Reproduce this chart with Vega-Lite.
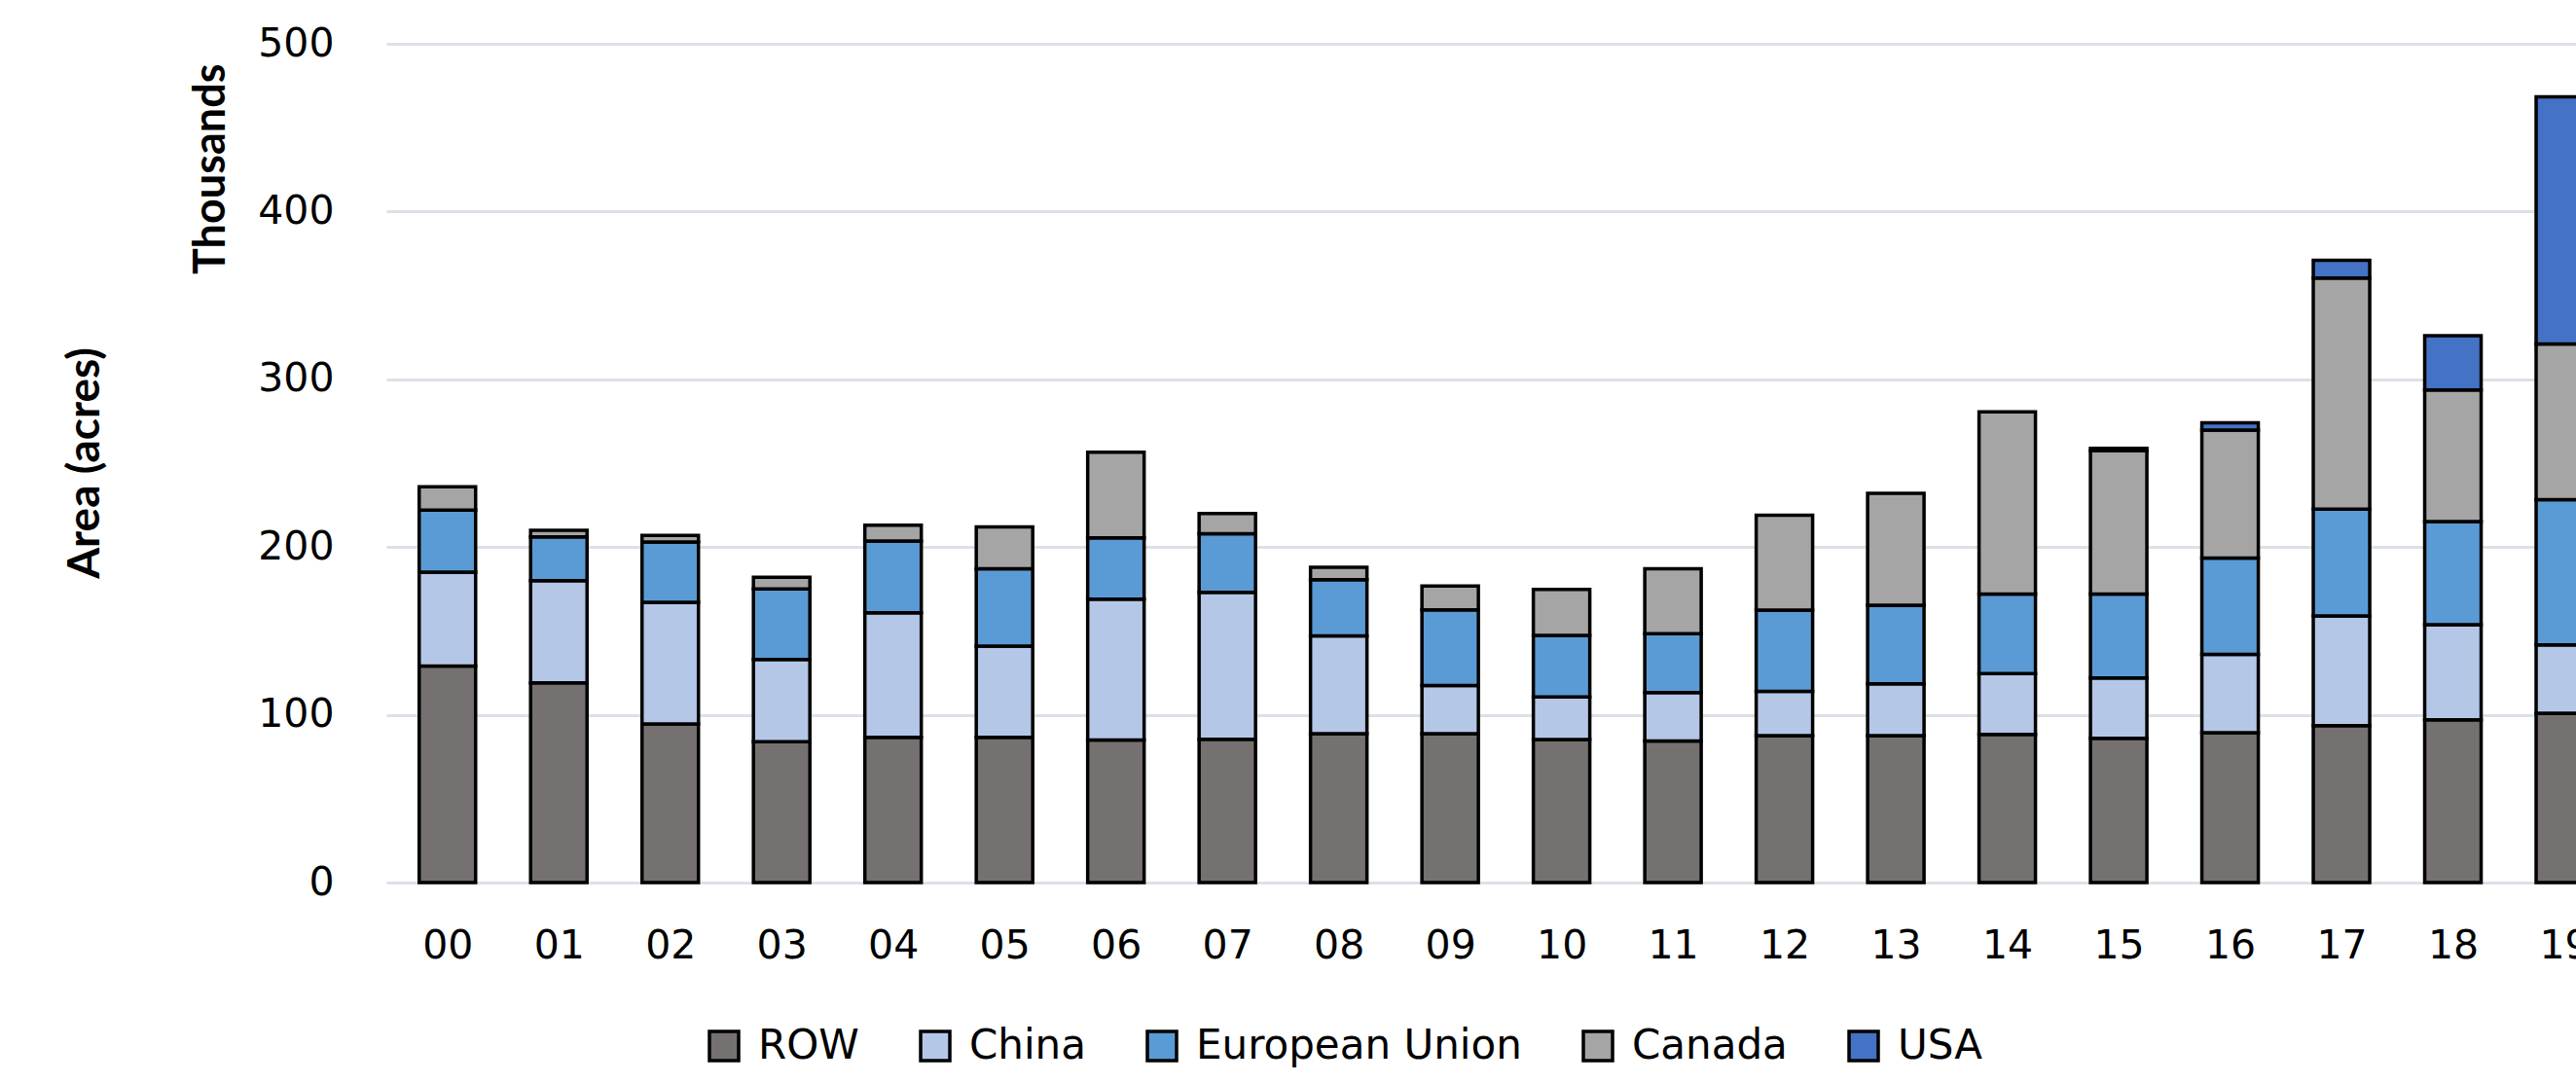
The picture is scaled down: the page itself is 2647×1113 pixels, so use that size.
{
  "$schema": "https://vega.github.io/schema/vega-lite/v6.json",
  "autosize": {"type": "none"},
  "padding": {"left": 397, "top": 45, "right": 0, "bottom": 206},
  "width": 2250,
  "height": 862,
  "background": "white",
  "title": {"text": "Area (acres)", "orient": "left", "anchor": "middle", "font": "Lato", "fontSize": 46, "fontWeight": "bold", "color": "black", "offset": 82},
  "data": {"values": [
    {"year": 2000, "region": "ROW", "value": 129}, {"year": 2000, "region": "China", "value": 56}, {"year": 2000, "region": "European Union", "value": 37}, {"year": 2000, "region": "Canada", "value": 14},
    {"year": 2001, "region": "ROW", "value": 119}, {"year": 2001, "region": "China", "value": 61}, {"year": 2001, "region": "European Union", "value": 26}, {"year": 2001, "region": "Canada", "value": 4},
    {"year": 2002, "region": "ROW", "value": 94.5}, {"year": 2002, "region": "China", "value": 72.5}, {"year": 2002, "region": "European Union", "value": 36}, {"year": 2002, "region": "Canada", "value": 4},
    {"year": 2003, "region": "ROW", "value": 84}, {"year": 2003, "region": "China", "value": 49}, {"year": 2003, "region": "European Union", "value": 42}, {"year": 2003, "region": "Canada", "value": 7},
    {"year": 2004, "region": "ROW", "value": 86.5}, {"year": 2004, "region": "China", "value": 74.3}, {"year": 2004, "region": "European Union", "value": 42.8}, {"year": 2004, "region": "Canada", "value": 9.4},
    {"year": 2005, "region": "ROW", "value": 86.5}, {"year": 2005, "region": "China", "value": 54.5}, {"year": 2005, "region": "European Union", "value": 46}, {"year": 2005, "region": "Canada", "value": 25},
    {"year": 2006, "region": "ROW", "value": 85}, {"year": 2006, "region": "China", "value": 84}, {"year": 2006, "region": "European Union", "value": 36.5}, {"year": 2006, "region": "Canada", "value": 51},
    {"year": 2007, "region": "ROW", "value": 85.4}, {"year": 2007, "region": "China", "value": 87.6}, {"year": 2007, "region": "European Union", "value": 35}, {"year": 2007, "region": "Canada", "value": 12},
    {"year": 2008, "region": "ROW", "value": 88.8}, {"year": 2008, "region": "China", "value": 58.2}, {"year": 2008, "region": "European Union", "value": 33.5}, {"year": 2008, "region": "Canada", "value": 7.5},
    {"year": 2009, "region": "ROW", "value": 88.8}, {"year": 2009, "region": "China", "value": 28.6}, {"year": 2009, "region": "European Union", "value": 45.1}, {"year": 2009, "region": "Canada", "value": 14.2},
    {"year": 2010, "region": "ROW", "value": 85.2}, {"year": 2010, "region": "China", "value": 25.5}, {"year": 2010, "region": "European Union", "value": 36.6}, {"year": 2010, "region": "Canada", "value": 27.4},
    {"year": 2011, "region": "ROW", "value": 84.4}, {"year": 2011, "region": "China", "value": 28.8}, {"year": 2011, "region": "European Union", "value": 35.2}, {"year": 2011, "region": "Canada", "value": 38.6},
    {"year": 2012, "region": "ROW", "value": 87.6}, {"year": 2012, "region": "China", "value": 26.4}, {"year": 2012, "region": "European Union", "value": 48.4}, {"year": 2012, "region": "Canada", "value": 56.6},
    {"year": 2013, "region": "ROW", "value": 87.6}, {"year": 2013, "region": "China", "value": 30.9}, {"year": 2013, "region": "European Union", "value": 46.8}, {"year": 2013, "region": "Canada", "value": 66.7},
    {"year": 2014, "region": "ROW", "value": 88.3}, {"year": 2014, "region": "China", "value": 36.2}, {"year": 2014, "region": "European Union", "value": 47.5}, {"year": 2014, "region": "Canada", "value": 108.6},
    {"year": 2015, "region": "ROW", "value": 86}, {"year": 2015, "region": "China", "value": 36}, {"year": 2015, "region": "European Union", "value": 50}, {"year": 2015, "region": "Canada", "value": 85.4}, {"year": 2015, "region": "USA", "value": 1.4},
    {"year": 2016, "region": "ROW", "value": 89.3}, {"year": 2016, "region": "China", "value": 46.7}, {"year": 2016, "region": "European Union", "value": 57.4}, {"year": 2016, "region": "Canada", "value": 76.3}, {"year": 2016, "region": "USA", "value": 4.3},
    {"year": 2017, "region": "ROW", "value": 93.5}, {"year": 2017, "region": "China", "value": 65.5}, {"year": 2017, "region": "European Union", "value": 63.6}, {"year": 2017, "region": "Canada", "value": 137.8}, {"year": 2017, "region": "USA", "value": 10.6},
    {"year": 2018, "region": "ROW", "value": 97}, {"year": 2018, "region": "China", "value": 56.7}, {"year": 2018, "region": "European Union", "value": 61.5}, {"year": 2018, "region": "Canada", "value": 78.4}, {"year": 2018, "region": "USA", "value": 32.4},
    {"year": 2019, "region": "ROW", "value": 101}, {"year": 2019, "region": "China", "value": 40.7}, {"year": 2019, "region": "European Union", "value": 86.5}, {"year": 2019, "region": "Canada", "value": 92.8}, {"year": 2019, "region": "USA", "value": 147.4}
  ]},
  "transform": [
    {"calculate": "indexof(['ROW', 'China', 'European Union', 'Canada', 'USA'], datum.region)", "as": "stack_rank"}
  ],
  "mark": {"type": "bar", "width": 58, "stroke": "black", "strokeWidth": 3.5},
  "encoding": {
    "x": {
      "field": "year", "type": "quantitative",
      "scale": {"domain": [1999.4957, 2019.061], "nice": false, "zero": false},
      "axis": {
        "title": null, "values": [2000,2001,2002,2003,2004,2005,2006,2007,2008,2009,2010,2011,2012,2013,2014,2015,2016,2017,2018,2019],
        "labelExpr": "format(datum.value % 100, '02d')",
        "labelFlush": false, "labelOverlap": false, "labelBound": false,
        "labelFont": "DejaVu Sans", "labelFontSize": 41, "labelColor": "black", "labelPadding": 45,
        "grid": false, "ticks": false, "domain": false, "labelAngle": 0
      }
    },
    "y": {
      "field": "value", "type": "quantitative", "stack": "zero",
      "scale": {"domain": [0, 500], "nice": false},
      "axis": {
        "title": "Thousands", "titleFont": "Lato", "titleFontSize": 45, "titleFontWeight": "bold", "titleColor": "black",
        "titleAngle": -90, "titleAnchor": "end", "titleAlign": "right", "titleBaseline": "alphabetic", "titleX": -167, "titleY": 20,
        "values": [0, 100, 200, 300, 400, 500],
        "labelFont": "DejaVu Sans", "labelFontSize": 41, "labelColor": "black", "labelPadding": 54,
        "ticks": false, "domain": false, "grid": true, "gridColor": "#DCE1E8", "gridWidth": 3
      }
    },
    "order": {"field": "stack_rank", "type": "quantitative", "sort": "ascending"},
    "color": {
      "field": "region", "type": "nominal",
      "sort": ["ROW", "China", "European Union", "Canada", "USA"],
      "scale": {"domain": ["ROW", "China", "European Union", "Canada", "USA"], "range": ["#767171", "#B4C7E7", "#5B9BD5", "#A5A5A5", "#4472C4"]},
      "legend": {
        "orient": "none", "direction": "horizontal", "legendX": 326, "legendY": 1009, "title": null,
        "symbolType": "square", "symbolSize": 900, "symbolStrokeColor": "black", "symbolStrokeWidth": 3.5, "symbolOpacity": 1,
        "labelFont": "DejaVu Sans", "labelFontSize": 42, "labelColor": "black", "labelOffset": 14, "columnPadding": 56, "labelLimit": 0
      }
    }
  },
  "config": {"view": {"stroke": null}}
}
